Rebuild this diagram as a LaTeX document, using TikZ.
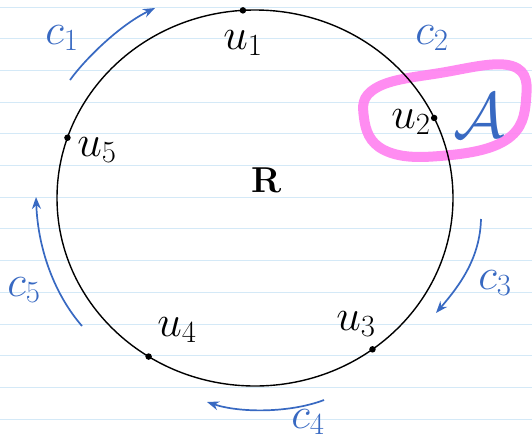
\documentclass[tikz,border=0pt]{standalone}
\usepackage{fix-cm}
\usepackage{fontspec}
\usetikzlibrary{positioning, arrows.meta, calc}
\definecolor{nbline}{HTML}{D4E9F7}
\definecolor{penblue}{HTML}{3869C2}
\definecolor{hlpink}{HTML}{FF80F0}

\begin{document}
\begin{tikzpicture}[
  x=1pt, y=-1pt,
  dot/.style={circle, fill=black, inner sep=0pt, minimum size=6.5pt},
  vlabel/.style={font=\fontsize{44}{50}\selectfont, inner sep=0pt},
  clabel/.style={font=\fontsize{44}{50}\selectfont, text=penblue, inner sep=0pt},
  carr/.style={-{Stealth[length=12pt,width=9pt]}, line width=1.7pt, color=penblue},
]
\useasboundingbox (0,0) rectangle (532,442);

% notebook paper
\fill[white] (0,0) rectangle (532,442);
\foreach \k in {0,...,13}
  \draw[nbline, line width=1pt] (0,{7+31.7*\k}) -- (532,{7+31.7*\k});

% highlight round u2
\draw[hlpink, line width=10pt, line cap=round, opacity=0.9]
  plot[smooth cycle, tension=0.7] coordinates
  {(364,118) (376,88) (440,73) (512,66) (526,100) (506,140) (440,156) (384,150)};

% the ring
\draw[line width=1.4pt] (255,198) ellipse [x radius=198, y radius=188];
\node[font=\fontsize{36}{40}\selectfont\bfseries] (ring) at (267,180) {R};

% vertices
\foreach \n/\t in {1/93.5, 2/25.2, 3/-53.6, 4/237.5, 5/161.3}
  \node[dot] (u\n) at ({255+198*cos(\t)}, {198-188*sin(\t)}) {};

\node[vlabel] (lu1) at (243,43) {$u_1$};
\node[vlabel] (lu2) at (411,122) {$u_2$};
\node[vlabel] (lu3) at (356,324) {$u_3$};
\node[vlabel] (lu4) at (177,330) {$u_4$};
\node[vlabel] (lu5) at (97,150) {$u_5$};
\node[clabel, font=\fontsize{64}{70}\selectfont] (alg) at (479,116) {$\mathcal{A}$};

% edges
\coordinate (c1s) at (70,80);   \coordinate (c1e) at (155,8);
\coordinate (c3s) at (481,219); \coordinate (c3e) at (436,313);
\coordinate (c4s) at (324,400); \coordinate (c4e) at (207,402);
\coordinate (c5s) at (82,326);  \coordinate (c5e) at (36,197);

\draw[carr] (c1s) .. controls (86,58) and (120,25) .. (c1e);
\draw[carr] (c3s) .. controls (480,258) and (460,285) .. (c3e);
\draw[carr] (c4s) .. controls (290,413) and (240,413) .. (c4e);
\draw[carr] (c5s) .. controls (55,295) and (38,250) .. (c5e);

\node[clabel] (lc1) at (62,38) {$c_1$};
\node[clabel] (lc2) at (432,38) {$c_2$};
\node[clabel] (lc3) at (495,283) {$c_3$};
\node[clabel] (lc4) at (308,422) {$c_4$};
\node[clabel] (lc5) at (24,290) {$c_5$};

\end{tikzpicture}
\end{document}
